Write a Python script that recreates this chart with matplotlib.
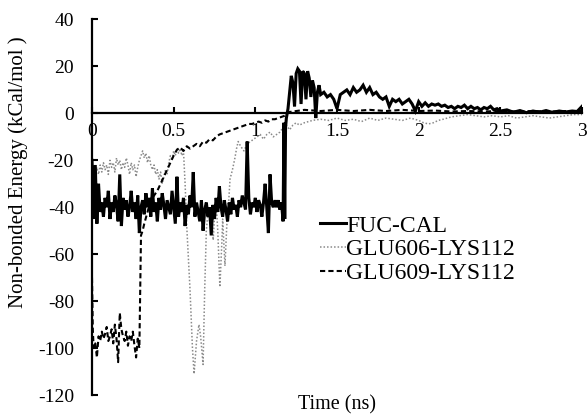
import numpy as np
import matplotlib
matplotlib.use("Agg")
import matplotlib.pyplot as plt

plt.rcParams['font.family'] = ['Liberation Serif', 'DejaVu Serif']
plt.rcParams['axes.unicode_minus'] = False

# ---------------- data ----------------
series_names = ["FUC-CAL", "GLU606-LYS112", "GLU609-LYS112"]

# FUC-CAL
fuc_t_early = np.linspace(0.0, 1.16, 117)
fuc_e_early = [-20, -45, -22, -47, -30, -42, -38, -44, -36, -40,
               -33, -45, -38, -42, -35, -39, -46, -26, -48, -36,
               -41, -37, -44, -40, -33, -42, -38, -45, -35, -51,
               -40, -37, -43, -34, -40, -36, -44, -32, -42, -38,
               -46, -36, -41, -34, -39, -45, -37, -40, -43, -33,
               -40, -47, -27, -44, -38, -42, -36, -48, -39, -43,
               -35, -40, -25, -44, -38, -42, -46, -37, -50, -41,
               -38, -44, -40, -52, -39, -45, -36, -42, -31, -40,
               -44, -37, -41, -46, -38, -43, -36, -41, -39, -44,
               -37, -40, -35, -38, -41, -12, -36, -43, -38, -40,
               -36, -42, -37, -39, -44, -38, -30, -40, -51, -26,
               -38, -40, -37, -40, -37, -41, -38]
fuc_t_jump = [1.17, 1.175, 1.18, 1.185, 1.19, 1.20, 1.21, 1.22, 1.23, 1.24,
              1.25, 1.26, 1.27, 1.28, 1.29, 1.30, 1.31, 1.32, 1.33, 1.34,
              1.35, 1.36, 1.37, 1.38, 1.39, 1.40]
fuc_e_jump = [-46, -4, -45, -6, -2, 2, 9, 16, 13, 3,
              17, 19, 18, 4, 18, 17, 6, 18, 15, 7,
              14, 11, -2, 9, 12, 8]
fuc_t_mid = np.linspace(1.42, 2.50, 55)
fuc_e_mid = [9, 7, 8, 6, 2, 8, 9, 10, 8, 11,
             9, 10, 12, 9, 11, 8, 9, 7, 6, 7,
             3, 6, 5, 6, 4, 5, 6, 4, 1, 5,
             3, 4.5, 3, 4, 3.5, 4, 3, 3.5, 2.5, 3,
             2, 3, 2.5, 3.5, 2, 3, 2, 2.5, 1.5, 2.5,
             2, 3, 1.5, 2, 1]
fuc_t_tail = [2.54, 2.58, 2.62, 2.66, 2.70, 2.74, 2.78, 2.82, 2.86, 2.90, 2.94, 2.97, 3.0]
fuc_e_tail = [1.5, 0.5, 1.2, 0.3, 1, 0.5, 1.2, 0.4, 1, 0.6, 1, 0.8, 3]

# GLU606-LYS112 (dotted)
glu606_t_early = np.linspace(0.0, 0.57, 58)
glu606_e_early = [-28, -24, -27, -23, -26, -22, -25, -21, -24, -22,
                  -26, -20, -23, -21, -25, -19, -22, -20, -24, -21,
                  -23, -19, -22, -26, -21, -24, -22, -27, -23, -20,
                  -18, -16, -19, -17, -21, -18, -22, -24, -22, -26,
                  -24, -28, -25, -30, -27, -24, -26, -21, -18, -20,
                  -16, -18, -15, -17, -15, -18, -16, -30]
glu606_t_late = [0.58, 0.60, 0.615, 0.625, 0.64, 0.655, 0.665, 0.68, 0.69, 0.70,
                 0.71, 0.72, 0.73, 0.742, 0.75, 0.76, 0.77, 0.783, 0.795, 0.80,
                 0.814, 0.825, 0.835, 0.845, 0.86, 0.875, 0.885, 0.895, 0.91, 0.93,
                 0.95, 0.97, 0.99, 1.01, 1.03, 1.05, 1.07, 1.09, 1.11, 1.13,
                 1.15, 1.17, 1.19, 1.21, 1.23, 1.25, 1.27, 1.30, 1.35, 1.40,
                 1.45, 1.50, 1.55, 1.60, 1.65, 1.70, 1.75, 1.80, 1.85, 1.90,
                 1.95, 2.00, 2.03, 2.06, 2.09, 2.12, 2.15, 2.20, 2.25, 2.30,
                 2.35, 2.40, 2.45, 2.50, 2.55, 2.60, 2.65, 2.70, 2.75, 2.80,
                 2.85, 2.90, 2.95, 3.00]
glu606_e_late = [-48, -75, -100, -111, -97, -90, -95, -107, -75, -50,
                 -42, -46, -40, -54, -44, -38, -50, -74, -55, -45,
                 -65, -48, -40, -28, -24, -19, -15, -12, -14, -16,
                 -13, -12, -11, -10, -9, -11, -9, -8, -10, -9,
                 -8, -6, -5, -7, -5, -4, -5, -4, -3, -2.5,
                 -3, -2, -3, -2.5, -3.5, -2, -3, -2, -2.5, -3,
                 -2, -3, -4, -4.5, -4, -3, -2.5, -1.5, -1, -0.5,
                 -1, -1.5, -1, -1.5, -1, -2, -1.5, -1, -1.5, -2,
                 -1.5, -1, -0.5, -0.5]

# GLU609-LYS112 (dashed)
glu609_t = [0.0, 0.005, 0.01, 0.02, 0.03, 0.04, 0.05, 0.06, 0.07, 0.08,
            0.09, 0.10, 0.11, 0.12, 0.13, 0.14, 0.15, 0.16, 0.17, 0.18,
            0.19, 0.20, 0.21, 0.22, 0.23, 0.24, 0.25, 0.26, 0.27, 0.28,
            0.29, 0.30, 0.31, 0.32, 0.34, 0.36, 0.38, 0.40, 0.42, 0.44,
            0.46, 0.48, 0.50, 0.52, 0.54, 0.56, 0.58, 0.60, 0.62, 0.64,
            0.66, 0.68, 0.70, 0.72, 0.74, 0.76, 0.78, 0.80, 0.82, 0.84,
            0.86, 0.88, 0.90, 0.92, 0.94, 0.96, 0.98, 1.00, 1.02, 1.04,
            1.06, 1.08, 1.10, 1.12, 1.14, 1.16, 1.18, 1.20, 1.25, 1.30,
            1.40, 1.50, 1.60, 1.70, 1.80, 1.90, 2.00, 2.10, 2.20, 2.30,
            2.40, 2.50, 2.60, 2.70, 2.80, 2.90, 3.00]
glu609_e = [-70, -92, -100, -98, -104, -95, -97, -93, -96, -94,
            -91, -97, -95, -92, -98, -90, -96, -106, -85, -92,
            -95, -97, -93, -99, -95, -97, -93, -99, -104, -96,
            -100, -52, -50, -47, -42, -37, -35, -33, -30, -27,
            -24, -21, -18, -15.5, -14.5, -16, -14, -15, -14, -13,
            -14, -12, -12.5, -11, -11.5, -10, -9, -8.5, -8, -7.5,
            -7, -6.5, -6, -5.5, -5, -4.5, -4.5, -4, -3.5, -4,
            -3, -3.5, -2.5, -2.5, -2, -1.5, -1, 0.5, 1, 1.5,
            1, 1.5, 1, 1.5, 1, 1.5, 1, 1.2, 0.8, 1,
            0.8, 1, 0.8, 1, 0.8, 1, 1]

x_ticks = [0, 0.5, 1, 1.5, 2, 2.5, 3]
x_tick_labels = ["0", "0.5", "1", "1.5", "2", "2.5", "3"]
y_ticks = [-120, -100, -80, -60, -40, -20, 0, 20, 40]
y_tick_labels = ["-120", "-100", "-80", "-60", "-40", "-20", "0", "20", "40"]

# ---------------- figure ----------------
W, H = 588, 416
fig = plt.figure(figsize=(W / 100, H / 100), dpi=100)
ax = fig.add_axes([92 / W, 1 - 395 / H, 490 / W, 375.5 / H])

fuc_t = np.concatenate([fuc_t_early, fuc_t_jump, fuc_t_mid, fuc_t_tail])
fuc_e = np.concatenate([fuc_e_early, fuc_e_jump, fuc_e_mid, fuc_e_tail])
g606_t = np.concatenate([glu606_t_early, glu606_t_late])
g606_e = np.concatenate([glu606_e_early, glu606_e_late])

ax.plot(g606_t, g606_e, color='#8a8a8a', lw=1.1, linestyle=(0, (1, 1.3)),
        label=series_names[1], zorder=2)
ax.plot(glu609_t, glu609_e, color='black', lw=1.5, linestyle=(0, (2.5, 1.5)),
        label=series_names[2], zorder=3)
ax.plot(fuc_t, fuc_e, color='black', lw=2.2, solid_joinstyle='miter',
        label=series_names[0], zorder=4)

ax.set_xlim(0, 3)
ax.set_ylim(-120, 40)
for s in ['top', 'right']:
    ax.spines[s].set_visible(False)
ax.spines['bottom'].set_position(('data', 0))
ax.spines['bottom'].set_linewidth(1.6)
ax.spines['left'].set_linewidth(1.6)
ax.spines['bottom'].set_zorder(5)

ax.set_xticks(x_ticks)
ax.set_xticklabels(x_tick_labels)
ax.set_yticks(y_ticks)
ax.set_yticklabels(y_tick_labels)
ax.tick_params(axis='x', direction='in', length=4, width=1.5, pad=7, labelsize=14)
ax.tick_params(axis='y', direction='in', length=4, width=1.5, pad=13, labelsize=14)

handles, labels = ax.get_legend_handles_labels()
order = [2, 0, 1]
leg = ax.legend([handles[i] for i in order], [labels[i] for i in order],
                loc='upper left', bbox_to_anchor=(320 / W, 1 - 215 / H),
                bbox_transform=fig.transFigure, frameon=False, fontsize=17,
                handlelength=1.1, handletextpad=0.0, labelspacing=0.1,
                borderpad=0, borderaxespad=0)

fig.text(18 / W, 1 - 172 / H, "Non-bonded Energy (kCal/mol )", rotation=90,
         ha='center', va='center', fontsize=15)
fig.text(337 / W, 1 - 405 / H, "Time (ns)", ha='center', va='center', fontsize=14.5)

fig.savefig("out.png", dpi=100)
